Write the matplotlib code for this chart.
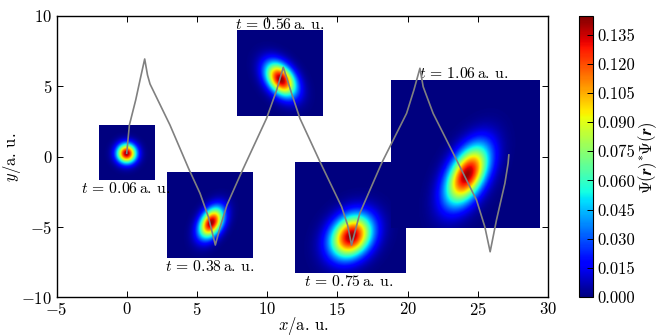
import numpy as np
import matplotlib
matplotlib.use("Agg")
import matplotlib.pyplot as plt

plt.rcParams['font.family'] = ['cmr10']
plt.rcParams['mathtext.fontset'] = 'cm'
plt.rcParams['axes.formatter.use_mathtext'] = True
plt.rcParams['axes.unicode_minus'] = True
plt.rcParams['font.size'] = 12

# trajectory
traj_x = [0.0, 0.19, 0.64, 1.0, 1.28, 1.48, 1.66, 3.08, 4.4, 5.22, 5.81, 6.31, 6.64, 7.14, 8.14, 9.96, 10.68, 11.15,
          11.74, 12.33, 13.76, 15.3, 15.73, 16.01, 16.6, 18.15, 19.93, 20.45, 20.88, 21.11, 21.82, 23.49,
          24.91, 25.5, 25.88, 26.33, 26.93, 27.16, 27.21]
traj_y = [0.23, 2.24, 4.02, 5.68, 6.94, 5.8, 5.16, 2.24, -0.84, -2.62, -4.28, -6.3, -5.07, -3.45, -1.2, 2.72, 4.73, 6.35,
          4.5, 2.72, -0.37, -3.57, -4.88, -6.3, -4.04, -0.48, 3.07, 4.73, 6.28, 4.97, 3.07, -0.25,
          -3.1, -5.0, -6.78, -4.52, -1.91, -0.48, 0.11]

# wave-packet snapshots
labels = ["0.06", "0.38", "0.56", "0.75", "1.06"]
ext_left = [-2.0, 2.85, 7.88, 12.0, 18.85]
ext_right = [1.95, 8.97, 14.0, 19.9, 29.4]
ext_bottom = [-1.65, -7.25, 2.86, -8.3, -5.1]
ext_top = [2.24, -1.17, 8.95, -0.4, 5.42]
centre_x = [-0.05, 6.0, 11.0, 16.0, 24.24]
centre_y = [0.23, -4.76, 5.45, -5.7, -1.32]
sigma_long = [0.47, 0.8, 0.92, 1.15, 1.56]
sigma_short = [0.47, 0.5, 0.6, 0.9, 0.82]
angle_deg = [0, 60, 128, 50, 62]
peak = [0.142, 0.142, 0.142, 0.142, 0.142]
label_x = [-0.06, 5.9, 10.87, 15.83, 24.0]
label_y = [-2.31, -7.85, 9.43, -8.91, 5.94]

vmax = 0.1446
cbar_ticks = [0.000, 0.015, 0.030, 0.045, 0.060, 0.075, 0.090, 0.105, 0.120, 0.135]

W, H = 664, 336
fig = plt.figure(figsize=(W / 100, H / 100), dpi=100)
ax = fig.add_axes([56.5 / W, (H - 297) / H, (548 - 56.5) / W, 281 / H])

im = None
for i in range(len(labels)):
    xs = np.linspace(ext_left[i], ext_right[i], 200)
    ys = np.linspace(ext_bottom[i], ext_top[i], 200)
    X, Y = np.meshgrid(xs, ys)
    a = np.radians(angle_deg[i])
    u = (X - centre_x[i]) * np.cos(a) + (Y - centre_y[i]) * np.sin(a)
    v = -(X - centre_x[i]) * np.sin(a) + (Y - centre_y[i]) * np.cos(a)
    Z = peak[i] * np.exp(-0.5 * (u / sigma_long[i]) ** 2 - 0.5 * (v / sigma_short[i]) ** 2)
    im = ax.imshow(Z, origin='lower', cmap='jet', vmin=0, vmax=vmax,
                   extent=(ext_left[i], ext_right[i], ext_bottom[i], ext_top[i]),
                   interpolation='bilinear', aspect='auto', zorder=2)
    ax.text(label_x[i], label_y[i], rf"$t\,=\,{labels[i]}\,\mathrm{{a.\,u.}}$", ha='center', va='center',
            fontsize=11.3, zorder=3)

ax.plot(traj_x, traj_y, color='#808080', lw=1.2, zorder=4)
ax.set_xlim(-5, 30)
ax.set_ylim(-10, 10)
ax.set_aspect('auto')
ax.tick_params(direction='in', top=True, right=True, length=4, width=0.7, labelsize=12, pad=3)
ax.set_xticks(np.arange(-5, 31, 5))
ax.set_yticks(np.arange(-10, 11, 5))
for s in ax.spines.values():
    s.set_linewidth(1.0)
fig.text(303 / W, 1 - 326 / H, r"$x/\mathrm{a.\,u.}$", ha='center', va='center', fontsize=12)
fig.text(12 / W, 1 - 157 / H, r"$y/\mathrm{a.\,u.}$", ha='center', va='center', rotation=90, fontsize=12)

cax = fig.add_axes([578.7 / W, (H - 297) / H, 14.6 / W, 281 / H])
cb = fig.colorbar(im, cax=cax, ticks=cbar_ticks)
cb.ax.set_yticklabels([f"{t:.3f}" for t in cbar_ticks])
cb.ax.tick_params(direction='in', length=4, width=0.7, labelsize=12, pad=3, color='k')
cb.outline.set_linewidth(0.8)
fig.text(648 / W, 1 - 158 / H, r"$\Psi(\boldsymbol{r})^{*}\Psi(\boldsymbol{r})$", ha='center', va='center',
         rotation=90, fontsize=12)

fig.savefig("out.png", dpi=100)
